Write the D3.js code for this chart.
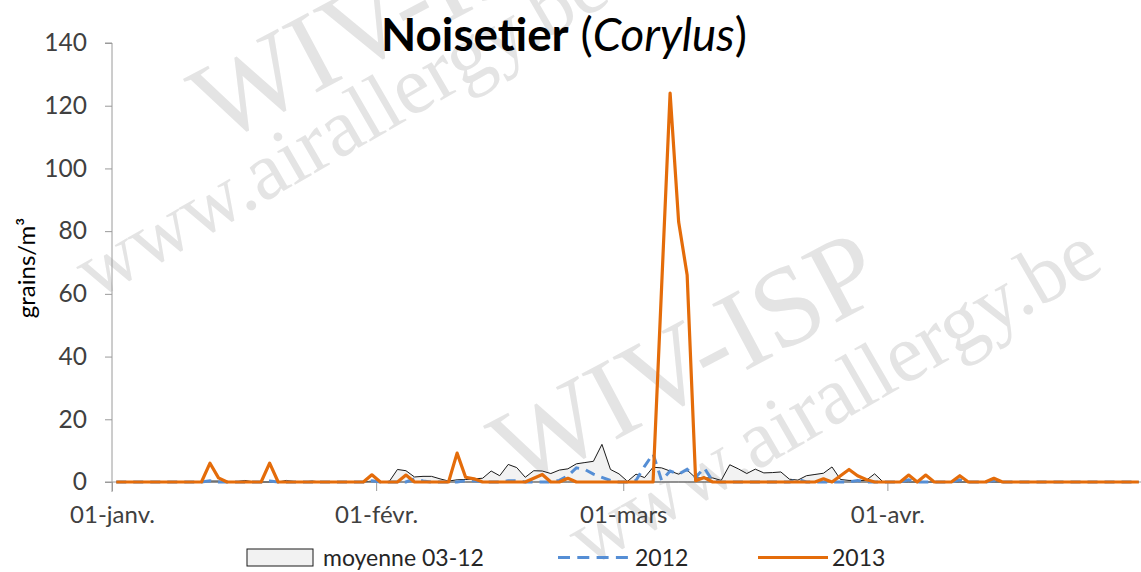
<!DOCTYPE html>
<html><head><meta charset="utf-8">
<script src="https://cdn.jsdelivr.net/npm/d3@7"></script>
<style>body{margin:0;background:#fff} svg{display:block}</style>
</head><body><svg id="c" width="1141" height="572"></svg>
<script>
// ---------- data ----------
const startDate = new Date(2012, 0, 1);
const endDate = new Date(2012, 4, 1);
const tickDates = [new Date(2012,0,1), new Date(2012,1,1), new Date(2012,2,1), new Date(2012,3,1)];
const tickLabels = ["01-janv.", "01-févr.", "01-mars", "01-avr."];
const yTicks = [0, 20, 40, 60, 80, 100, 120, 140];
const seriesNames = ["moyenne 03-12", "2012", "2013"];

const meanValues = [
  0,0,0,0,0,0,0,0,0,0,
  0,0.3,0.3,0,0,0.5,0.1,0,0,0,
  0.5,0.1,0,0.3,0,0,0,0,0,0,
  0.3,0.1,0,4,3.6,1.6,1.8,1.8,1,0.3,
  0.7,0.8,1,1.2,3.5,2,5.6,4.6,1.5,3.6,
  3.5,2.7,3.8,4.2,5.8,6.2,6.6,12,4,2.6,
  0.2,2.5,1.4,4.7,4.5,3.5,2.5,3.8,1.3,1.3,
  1.3,0.5,5.5,4.2,2.7,4.1,2.9,3,3.2,0.9,
  0.6,2,2.4,2.8,4.8,0.8,0.5,0.5,0.5,2.6,
  0,0,0,0,0,0,0,0,0,0,
  0,0,0,0,0,0,0,0,0,0,
  0,0,0,0,0,0,0,0,0,0,
  0
];
const values2012 = [
  0,0,0,0,0,0,0,0,0,0,
  0,0.4,0,0,0,0,0,0,0.3,0,
  0,0,0,0,0,0,0,0,0,0,
  0.4,0,0,0,0,1,0.3,0,0,0,
  0,0.4,0.4,0,0,0,0.4,0.4,0,0,
  0,0,0.5,2,4.5,4,2.5,1.5,0.5,0,
  0,0.5,5,9,0.5,3.5,2.5,4,1.5,4.5,
  0.3,0,0,0,0,0,0,0,0,0,
  0.8,0,0,0,0,0,0,0.5,0,0,
  0,0,0,0.7,0,0,0,0,0,0.7,
  0,0,0,0.5,0,0,0,0,0,0,
  0,0,0,0,0,0,0,0,0,0,
  0
];
const values2013 = [
  0,0,0,0,0,0,0,0,0,0,
  0,6,1.3,0,0,0,0,0,6,0,
  0,0,0,0,0,0,0,0,0,0,
  2.3,0,0,0,2.2,0,0,0,0,0,
  9.2,1.5,1,0,0,0,0,0,0,1.2,
  2.4,0,0,1.2,0,0,0,0,0,0,
  0,0,0,0,62,124,83,66,0.4,1.4,
  0,0,0,0,0,0,0,0,0,0,
  0,0,0,1,0,2,4,2,0.8,0,
  0,0,0,2.2,0,2.2,0,0,0,2,
  0,0,0,1.2,0,0,0,0,0,0,
  0,0,0,0,0,0,0,0,0,0,
  0
];

// ---------- layout ----------
const plot = {left: 112, right: 1143, top: 43, bottom: 482};
const svg = d3.select("#c");
const FONT = "Lato, 'Open Sans', sans-serif";

const x = d3.scaleTime().domain([startDate, endDate]).range([plot.left, plot.right]);
const y = d3.scaleLinear().domain([0, 140]).range([plot.bottom, plot.top]);
const days = d3.timeDay.range(startDate, endDate);
const xc = i => x(d3.timeHour.offset(days[i], 12));

function fitWidth(sel, target) {
  const w = sel.node().getComputedTextLength();
  const fs = parseFloat(sel.attr("font-size"));
  sel.attr("font-size", fs * target / w);
}

// ---------- watermark ----------
const wm = svg.append("g").attr("fill", "#e4e4e4")
  .attr("font-family", "'Liberation Serif', 'DejaVu Serif', serif");
const wmItems = [
  {t: "WIV-ISP", x: 218, y: 145, fs: 114, a: -28},
  {t: "www.airallergy.be", x: 95, y: 300, fs: 82, a: -30},
  {t: "WIV-ISP", x: 518, y: 492, fs: 114, a: -28},
  {t: "www.airallergy.be", x: 588, y: 568, fs: 82, a: -30}
];
wmItems.forEach(d => {
  wm.append("text").attr("transform", `translate(${d.x},${d.y}) rotate(${d.a})`)
    .attr("font-size", d.fs).text(d.t);
});

// ---------- mean area ----------
const area = d3.area().x((d, i) => xc(i)).y0(y(0)).y1(d => y(d));
svg.append("path").datum(meanValues).attr("d", area)
  .attr("fill", "#f2f2f2").attr("stroke", "#1a1a1a").attr("stroke-width", 1);

// ---------- axes ----------
const yAxis = d3.axisLeft(y).tickValues(yTicks).tickSize(7).tickPadding(18);
const gy = svg.append("g").attr("transform", `translate(${plot.left},0)`).call(yAxis);
gy.select(".domain").attr("stroke", "#9a9a9a").attr("d", `M-7,${plot.top}H0V${plot.bottom + 10}`);
gy.selectAll(".tick line").attr("stroke", "#9a9a9a");
gy.selectAll(".tick text").attr("font-family", FONT).attr("font-size", 24.5).attr("fill", "#404040");

const xAxis = d3.axisBottom(x).tickValues(tickDates).tickSize(9).tickPadding(15)
  .tickFormat((d, i) => tickLabels[i]);
const gx = svg.append("g").attr("transform", `translate(0,${plot.bottom})`).call(xAxis);
gx.select(".domain").attr("stroke", "#9a9a9a").attr("d", `M${plot.left - 7},0H${plot.right}`);
gx.selectAll(".tick line").attr("stroke", "#9a9a9a");
gx.selectAll(".tick text").attr("font-family", FONT).attr("font-size", 24).attr("fill", "#404040");

// y title
svg.append("text").attr("transform", "translate(35,268) rotate(-90)")
  .attr("text-anchor", "middle").attr("font-family", FONT).attr("font-size", 24)
  .attr("fill", "#000").text("grains/m³");

// ---------- lines ----------
const line = d3.line().x((d, i) => xc(i)).y(d => y(d));
svg.append("path").datum(values2012).attr("d", line)
  .attr("fill", "none").attr("stroke", "#558ED5").attr("stroke-width", 3)
  .attr("stroke-dasharray", "10,7");
svg.append("path").datum(values2013).attr("d", line)
  .attr("fill", "none").attr("stroke", "#E46C0A").attr("stroke-width", 3.2)
  .attr("stroke-linejoin", "round");

// ---------- title ----------
const title = svg.append("text").attr("x", 381).attr("y", 51)
  .attr("font-family", FONT).attr("font-size", 44).attr("fill", "#000");
title.append("tspan").attr("font-weight", "bold").text("Noisetier");
title.append("tspan").text(" (");
title.append("tspan").attr("font-style", "italic").text("Corylus");
title.append("tspan").text(")");
fitWidth(title, 366);

// ---------- legend ----------
const lg = svg.append("g").attr("font-family", FONT).attr("font-size", 23).attr("fill", "#262626");
lg.append("rect").attr("x", 247).attr("y", 549).attr("width", 66).attr("height", 17)
  .attr("fill", "#f2f2f2").attr("stroke", "#1a1a1a").attr("stroke-width", 1);
const t1 = lg.append("text").attr("x", 323).attr("y", 566).text(seriesNames[0]);
fitWidth(t1, 168);
const fsLegend = t1.attr("font-size");
lg.append("line").attr("x1", 558).attr("x2", 628).attr("y1", 557.5).attr("y2", 557.5)
  .attr("stroke", "#558ED5").attr("stroke-width", 3).attr("stroke-dasharray", "12,7.3");
lg.append("text").attr("x", 635).attr("y", 566).attr("font-size", fsLegend).text(seriesNames[1]);
lg.append("line").attr("x1", 758).attr("x2", 828).attr("y1", 557.5).attr("y2", 557.5)
  .attr("stroke", "#E46C0A").attr("stroke-width", 3);
lg.append("text").attr("x", 832).attr("y", 566).attr("font-size", fsLegend).text(seriesNames[2]);
</script></body></html>
